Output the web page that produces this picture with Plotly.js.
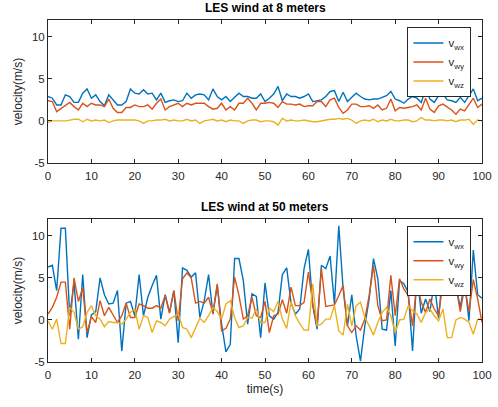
<!DOCTYPE html>
<html>
<head>
<meta charset="utf-8">
<script src="https://cdn.plot.ly/plotly-3.0.1.min.js"></script>
<style>html,body{margin:0;padding:0;background:#fff;}#chart{width:498px;height:407px;}</style>
</head>
<body>
<div id="chart"></div>
<script>
const time = [0,1,2,3,4,5,6,7,8,9,10,11,12,13,14,15,16,17,18,19,20,21,22,23,24,25,26,27,28,29,30,31,32,33,34,35,36,37,38,39,40,41,42,43,44,45,46,47,48,49,50,51,52,53,54,55,56,57,58,59,60,61,62,63,64,65,66,67,68,69,70,71,72,73,74,75,76,77,78,79,80,81,82,83,84,85,86,87,88,89,90,91,92,93,94,95,96,97,98,99,100];

const seriesNames = ['v<sub>wx</sub>','v<sub>wy</sub>','v<sub>wz</sub>'];
const titles = ['LES wind at 8 meters','LES wind at 50 meters'];
const xTicks = [0,10,20,30,40,50,60,70,80,90,100];
const yTicks = [-5,0,5,10];
const yTickText = ['-5','0','5','10'];

const vx8 = [2.9,2.7,1.9,1.9,3.1,2.9,2.2,2.2,3.3,3.8,2.7,3.1,2.3,1.8,3.1,2.5,1.9,1.9,2.3,3.8,3.3,3.2,3.7,3.2,3.3,2.5,3.3,2.2,2.4,2.5,2.3,2.4,3.3,2.7,3.1,3.2,3.1,2.5,3.8,2.9,2.5,2.9,2.3,2.8,3.3,2.9,2.9,2.7,2.7,3.2,2.3,2.7,3.2,4.1,2.4,3.2,2.9,2.9,2.7,2.9,3.2,2.3,2.4,2.5,2.9,3.5,3.6,2.3,3.4,2.3,2.8,3.3,2.9,2.6,2.5,2.6,2.6,2.8,3.0,3.5,2.6,2.4,2.1,2.6,2.9,2.7,2.2,3.8,2.6,2.2,3.0,3.2,2.5,2.4,2.2,2.8,2.2,3.0,3.8,2.4,2.7];
const vy8 = [2.4,2.3,1.1,1.5,1.9,2.2,1.7,1.3,2.1,1.7,2.1,1.9,1.9,1.7,2.6,1.5,1.0,1.0,1.6,1.6,1.9,1.7,1.7,1.9,1.4,2.1,2.6,1.3,1.7,1.9,2.1,1.7,2.1,1.9,2.1,2.1,2.1,1.7,1.4,1.5,2.1,1.3,1.7,1.3,2.1,2.1,2.7,2.1,1.3,2.1,2.1,2.2,2.1,1.6,2.3,2.0,2.0,1.9,2.0,1.7,1.8,1.8,2.3,2.3,1.7,2.5,2.7,1.6,0.9,1.3,2.0,2.0,1.7,1.7,1.8,1.5,1.9,1.3,1.5,2.6,1.2,1.6,1.5,1.6,1.7,1.9,1.3,2.7,1.4,1.0,1.8,2.0,1.7,1.3,0.8,1.4,1.2,2.0,2.7,1.6,2.0];
const vz8 = [-0.2,0.0,0.0,0.0,0.0,0.1,0.2,0.2,-0.1,0.2,0.0,0.1,0.0,0.1,-0.2,0.0,0.1,0.1,0.1,0.1,0.1,0.0,-0.3,0.0,0.0,0.1,0.1,0.2,0.0,0.1,0.0,0.0,0.2,0.0,0.1,-0.3,0.0,0.1,0.2,0.0,0.1,-0.1,0.1,0.0,0.0,-0.3,0.0,0.1,0.1,-0.1,0.0,0.0,-0.1,-0.5,0.3,0.0,0.1,0.0,0.0,0.1,0.0,-0.1,-0.1,0.0,0.1,0.2,0.2,0.3,0.2,0.3,0.1,-0.3,0.0,0.1,0.0,0.2,-0.1,0.1,0.0,0.2,0.0,0.0,0.1,0.1,-0.1,0.0,0.4,0.1,0.1,0.0,0.1,0.1,0.0,0.1,-0.1,0.1,0.1,0.2,-0.4,0.1,0.0];

const vx50 = [6.3,6.5,3.5,10.9,10.9,0.5,4.5,-2.3,5.4,-2.1,0.6,1.0,5.0,3.0,1.9,2.0,3.5,-3.7,2.0,2.2,0.5,5.4,0.5,2.7,4.1,5.3,0.1,3.0,0.9,3.5,-2.7,6.2,5.9,5.1,5.6,0.3,2.3,5.4,0.7,4.1,-0.5,-3.8,-2.9,7.3,7.3,4.7,-0.5,3.1,2.8,-2.1,4.4,0.5,0.1,0.9,5.4,6.2,2.0,0.7,1.3,6.1,8.4,1.7,-1.1,6.5,6.1,7.6,1.9,11.2,3.7,-0.7,3.0,-1.9,-4.9,-0.7,2.5,7.3,4.9,-1.1,-1.2,3.5,-3.1,4.7,4.3,3.3,-3.7,5.5,0.8,2.5,1.0,4.5,0.2,6.0,3.5,5.0,4.0,1.5,4.5,-0.1,8.3,3.0,2.6];
const vy50 = [0.7,1.5,2.7,4.5,4.5,-1.1,5.0,2.2,3.8,-1.5,0.4,-0.3,2.3,0.5,1.5,0.6,-0.3,0.5,2.0,0.3,0.3,1.9,1.7,1.4,1.4,1.7,1.4,2.9,0.8,3.5,-0.1,4.9,5.6,5.0,2.0,2.2,2.0,2.7,0.8,4.3,-1.3,-1.0,0.1,5.1,2.9,0.1,0.5,2.7,0.5,0.3,2.2,-1.5,0.5,0.7,2.4,0.8,3.9,1.7,1.7,2.1,5.7,1.9,-0.7,6.1,1.6,1.7,1.8,2.9,4.1,-0.7,-1.5,-0.7,-1.2,0.1,2.9,6.5,1.7,-0.1,0.0,5.3,0.5,4.9,3.7,2.9,-0.7,4.5,2.1,0.9,2.5,1.3,0.5,4.5,3.0,5.0,4.0,1.0,4.0,1.0,4.8,2.5,-0.3];
const vz50 = [-0.1,-1.1,0.1,-2.8,-2.8,1.5,0.9,-1.1,-0.8,0.9,1.7,0.5,0.1,-0.8,-0.2,-0.3,-0.3,-0.5,0.1,0.9,1.3,-1.1,0.5,0.3,-1.5,-0.1,-0.3,-0.7,0.1,0.4,0.7,-0.9,-1.1,-2.1,-0.9,0.2,-0.3,0.5,1.5,1.0,0.1,1.9,2.3,0.3,-0.9,-0.7,0.3,0.2,1.3,-0.3,-0.3,1.4,1.0,2.2,0.1,-1.0,2.2,0.5,-0.4,-1.2,-1.2,4.3,-0.7,-0.5,0.1,0.1,1.7,-1.3,-1.8,1.9,-0.7,1.7,2.1,0.3,-0.7,-1.8,-0.3,0.9,1.5,0.5,-1.5,0.0,0.1,1.7,1.1,0.7,-0.3,0.9,1.3,0.5,-0.1,1.3,-2.1,-2.1,0.0,0.3,0.1,-0.3,-1.7,0.1,0.1];

const colors = ['#0072BD','#D95319','#EDB120'];
const txt = '#262626';
const font = 'Liberation Sans, Arial, Helvetica, sans-serif';

function mk(y, i, xa, ya, lg) {
  return {x: time, y: y, type: 'scatter', mode: 'lines', name: seriesNames[i],
    line: {color: colors[i], width: 1.4}, xaxis: xa, yaxis: ya, legend: lg};
}
const traces = [
  mk(vx8,0,'x','y','legend'), mk(vy8,1,'x','y','legend'), mk(vz8,2,'x','y','legend'),
  mk(vx50,0,'x2','y2','legend2'), mk(vy50,1,'x2','y2','legend2'), mk(vz50,2,'x2','y2','legend2')
];

function xax(anchor, showTitle) {
  const a = {range:[0,100], tickmode:'array', tickvals:xTicks, ticks:'inside', ticklen:4,
    tickcolor: txt, showline:true, linecolor: txt, linewidth:1, mirror:'ticks', showgrid:false,
    zeroline:false, anchor: anchor, tickfont:{size:11.5, color:txt, family:font}, ticklabelstandoff:2};
  if (showTitle) a.title = {text:'time(s)', font:{size:12, color:txt, family:font}, standoff:4};
  return a;
}
function yax(anchor, dom) {
  return {range:[-5,12], tickmode:'array', tickvals:yTicks, ticktext:yTickText, ticks:'inside', ticklen:4, tickcolor: txt,
    showline:true, linecolor: txt, linewidth:1, mirror:'ticks', showgrid:false, zeroline:false,
    anchor: anchor, domain: dom, tickfont:{size:11.5, color:txt, family:font},
    title:{text:'velocity(m/s)', font:{size:12, color:txt, family:font}, standoff:6}};
}
const legendBase = {xanchor:'right', yanchor:'top', bgcolor:'#fff', bordercolor:'#262626', borderwidth:1.3,
  font:{size:11.4, color:txt, family:font}, tracegroupgap:0, itemwidth:30};

const layout = {
  width:498, height:407, paper_bgcolor:'#fff', plot_bgcolor:'#fff',
  margin:{l:48, r:16, t:20, b:45},
  showlegend:true,
  xaxis: xax('y', false),
  yaxis: yax('x', [0.582, 1]),
  xaxis2: xax('y2', true),
  yaxis2: yax('x2', [0, 0.418]),
  legend: Object.assign({x:0.975, y:0.979}, legendBase),
  legend2: Object.assign({x:0.975, y:0.398}, legendBase),
  annotations: [
    {text:'<b>'+titles[0]+'</b>', xref:'paper', yref:'paper', x:0.5, y:1, yshift:3, yanchor:'bottom', showarrow:false, font:{size:12, color:'#000', family:font}},
    {text:'<b>'+titles[1]+'</b>', xref:'paper', yref:'paper', x:0.5, y:0.418, yshift:3, yanchor:'bottom', showarrow:false, font:{size:12, color:'#000', family:font}}
  ]
};
Plotly.newPlot('chart', traces, layout, {displayModeBar:false, staticPlot:true});
</script>
</body>
</html>
